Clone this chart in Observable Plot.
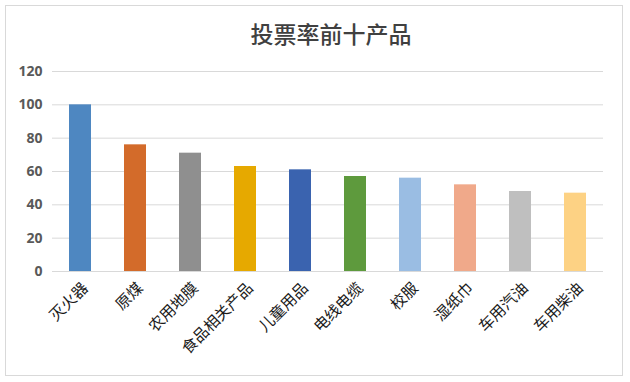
<!DOCTYPE html>
<html>
<head>
<meta charset="utf-8">
<script src="https://cdn.jsdelivr.net/npm/d3@7"></script>
<script src="https://cdn.jsdelivr.net/npm/@observablehq/plot@0.6"></script>
<style>
  html, body { margin: 0; padding: 0; background: #fff; }
  #wrap { position: relative; width: 630px; height: 382px; overflow: hidden; background: #fff; }
  #frame { position: absolute; left: 5px; top: 5px; width: 616px; height: 369px; border: 1px solid #d9d9d9; }
  #title { position: absolute; left: 0; top: 17px; width: 662px; text-align: center;
           font-family: "Noto Sans CJK SC", sans-serif; font-size: 23px; font-weight: 500; color: #404040; line-height: 32px; }
  #chart { position: absolute; left: 0; top: 56px; }
</style>
</head>
<body>
<div id="wrap">
  <div id="frame"></div>
  <div id="title">投票率前十产品</div>
  <div id="chart"></div>
</div>
<script>
const categories = ["灭火器", "原煤", "农用地膜", "食品相关产品", "儿童用品", "电线电缆", "校服", "湿纸巾", "车用汽油", "车用柴油"];
const values = [100, 76, 71, 63, 61, 57, 56, 52, 48, 47];
const colors = ["#4E87C1", "#D36B2A", "#8F8F8F", "#E6A900", "#3A63AF", "#5E9A3D", "#9ABDE3", "#F0A98A", "#BFBFBF", "#FDD284"];
const yTicks = [0, 20, 40, 60, 80, 100, 120];

const data = categories.map((c, i) => ({category: c, value: values[i], color: colors[i]}));

const chart = Plot.plot({
  width: 630,
  height: 326,
  marginTop: 15,
  marginBottom: 111,
  marginLeft: 52,
  marginRight: 27,
  style: {background: "transparent", overflow: "visible"},
  x: {domain: categories, paddingInner: 0.6, paddingOuter: 0.3, label: null},
  y: {domain: [0, 120], label: null},
  marks: [
    Plot.ruleY(yTicks, {stroke: "#d9d9d9", strokeWidth: 1}),
    Plot.barY(data, {x: "category", y: "value", fill: "color"}),
    Plot.axisY({ticks: yTicks, tickSize: 0, tickPadding: 10, label: null,
      fontSize: 14, fontWeight: "bold", fontFamily: "'Open Sans', sans-serif", fill: "#595959"}),
    Plot.axisX({tickSize: 0, tickPadding: 14, tickRotate: -45, dx: 5, label: null,
      fontSize: 15.5, fontFamily: "'Noto Sans CJK SC', sans-serif", fill: "#1a1a1a"})
  ]
});
document.getElementById("chart").appendChild(chart);
</script>
</body>
</html>
